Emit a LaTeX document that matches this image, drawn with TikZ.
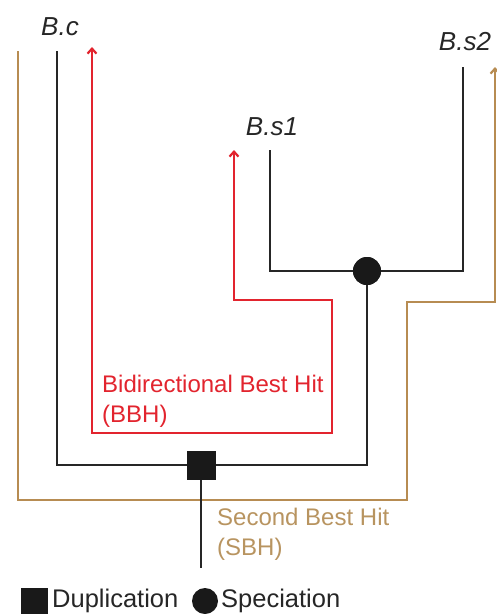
\documentclass[tikz,border=0pt]{standalone}
\usepackage{fontspec}
\setmainfont{Liberation Sans}
\usetikzlibrary{arrows.meta}
\definecolor{tanc}{RGB}{183,140,82}
\definecolor{tantext}{RGB}{184,148,96}
\definecolor{redc}{RGB}{226,36,46}
\begin{document}
\begin{tikzpicture}[x=1pt,y=-1pt,
  tree/.style={draw=black!85,line width=2.4pt},
  redpath/.style={draw=redc,line width=2.2pt,{Straight Barb[length=5pt,width=9pt]}-{Straight Barb[length=5pt,width=9pt]}},
  tanpath/.style={draw=tanc,line width=2.2pt,-{Straight Barb[length=5pt,width=9pt]}},
  leaf/.style={font=\fontsize{26}{30}\selectfont\itshape,text=black!85,inner sep=0pt,anchor=base},
  lbl/.style={font=\fontsize{24}{30}\selectfont,inner sep=0pt,anchor=base west,align=left},
  spec/.style={circle,fill=black!90,minimum size=28pt,inner sep=0pt},
  dupl/.style={rectangle,fill=black!90,minimum size=29pt,inner sep=0pt}
]
\useasboundingbox (0,0) rectangle (497,614);
% leaf labels
\node[leaf] (lc) at (60,35) {B.c};
\node[leaf] (ls1) at (272,135) {B.s1};
\node[leaf] (ls2) at (465,50) {B.s2};
% leaf tops
\coordinate (tc) at (57,51);
\coordinate (ts1) at (270,150);
\coordinate (ts2) at (463,67);
% internal nodes
\node[spec] (sp) at (367,271) {};
\node[dupl] (dp) at (201,465) {};
\coordinate (root) at (201,568);
% tan path (drawn first, behind)
\coordinate (tanstart) at (18,51);
\coordinate (tanend) at (495,67);
\draw[tanpath] (tanstart) -- (18,500) -- (407,500) -- (407,302) -- (495,302) -- (tanend);
% red path
\coordinate (redA) at (234,150);
\coordinate (redB) at (92,47);
\draw[redpath] (redA) -- (234,300) -- (332,300) -- (332,433) -- (92,433) -- (redB);
% black tree
\draw[tree] (tc) -- (57,465) -- (dp.center);
\draw[tree] (dp.center) -- (367,465) -- (sp.center);
\draw[tree] (ts1) -- (270,271) -- (463,271) -- (ts2);
\draw[tree] (dp.center) -- (root);
\node[spec] at (sp) {};
\node[dupl] at (dp) {};
% labels
\node[lbl,text=redc] (bbh) at (102,422) {Bidirectional Best Hit\\(BBH)};
\node[lbl,text=tantext] (sbh) at (217,555) {Second Best Hit\\(SBH)};
% legend
\node[dupl,minimum size=27pt] (legd) at (34,601) {};
\node[lbl,text=black!85,anchor=west,font=\fontsize{25.5}{30}\selectfont] (legdt) at (52,601) {Duplication};
\node[spec,minimum size=26pt] (legs) at (205,601) {};
\node[lbl,text=black!85,anchor=west,font=\fontsize{25.5}{30}\selectfont] (legst) at (221,601) {Speciation};
\end{tikzpicture}
\end{document}
